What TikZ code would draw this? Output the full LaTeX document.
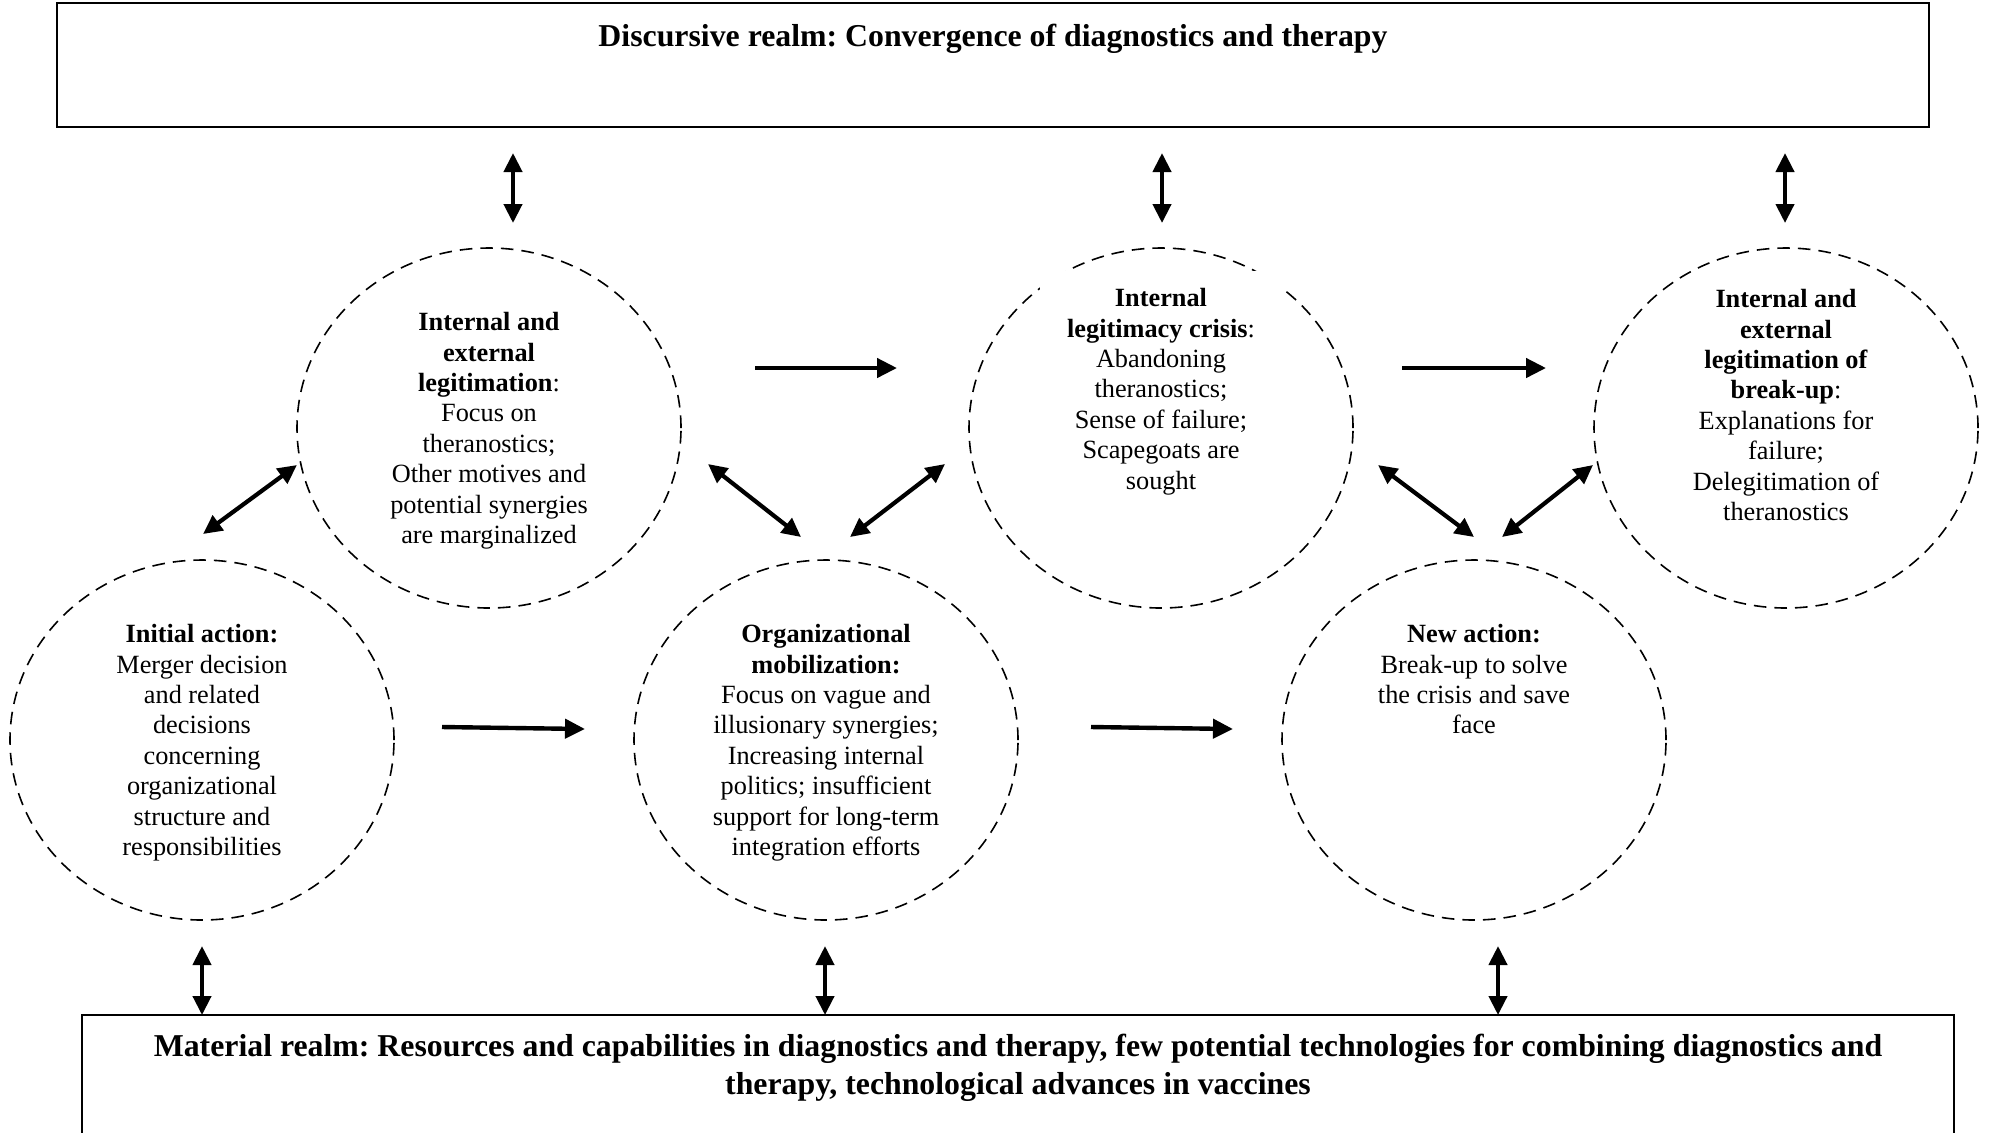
\documentclass[tikz,border=0pt]{standalone}
\usepackage{fontspec}
\setmainfont{Liberation Serif}
\usetikzlibrary{shapes.geometric,arrows.meta}
\begin{document}
\frenchspacing
\begin{tikzpicture}[x=0.5pt,y=-0.5pt,
  circ/.style={draw, ellipse, dash pattern=on 6.3pt off 4pt, line width=0.8pt,
    minimum width=192pt, minimum height=180pt, inner sep=0pt},
  ctext/.style={anchor=north, align=center, inner sep=0pt,
    font=\fontsize{13.15pt}{15.2pt}\selectfont},
  realm/.style={draw, line width=1pt, rectangle, inner sep=0pt},
  rtext/.style={align=center, inner sep=0pt,
    font=\fontsize{15.9pt}{19pt}\selectfont\bfseries},
  arr/.style={line width=2.2pt, -{Triangle[length=10pt,width=9.5pt]}},
  darr/.style={line width=2.1pt, {Triangle[length=9.5pt,width=9pt]}-{Triangle[length=9.5pt,width=9pt]}},
]
\clip (0,0) rectangle (1990,1132);
\fill[white] (0,0) rectangle (1990,1132);

% realm boxes
\node[realm, minimum width=936pt, minimum height=62pt] (disc) at (993,65) {};
\node[rtext, anchor=base] (disctitle) at (993,46) {Discursive realm: Convergence of diagnostics and therapy};
\node[realm, minimum width=936pt, minimum height=75pt] (mat) at (1018,1090) {};
\node[rtext, anchor=north] (mattitle) at (1018,1034) {Material realm: Resources and capabilities in diagnostics and therapy, few potential technologies for combining diagnostics and\\therapy, technological advances in vaccines};

% circles
\node[circ] (c1) at (489,428) {};
\node[circ] (c2) at (1161,428) {};
\node[circ] (c3) at (1786,428) {};
\node[circ] (c4) at (202,740) {};
\node[circ] (c5) at (826,740) {};
\node[circ] (c6) at (1474,740) {};
\fill[white] (1040,271) rectangle (1282,300);

% circle texts
\node[ctext] (t1) at (489,312) {\textbf{Internal and}\\\textbf{external}\\\textbf{legitimation}:\\Focus on\\theranostics;\\Other motives and\\potential synergies\\are marginalized};
\node[ctext] (t2) at (1161,288) {\textbf{Internal}\\\textbf{legitimacy crisis}:\\Abandoning\\theranostics;\\Sense of failure;\\Scapegoats are\\sought};
\node[ctext] (t3) at (1786,289) {\textbf{Internal and}\\\textbf{external}\\\textbf{legitimation of}\\\textbf{break-up}:\\Explanations for\\failure;\\Delegitimation of\\theranostics};
\node[ctext] (t4) at (202,624) {\textbf{Initial action:}\\Merger decision\\and related\\decisions\\concerning\\organizational\\structure and\\responsibilities};
\node[ctext] (t5) at (826,624) {\textbf{Organizational}\\\textbf{mobilization:}\\Focus on vague and\\illusionary synergies;\\Increasing internal\\politics; insufficient\\support for long-term\\integration efforts};
\node[ctext] (t6) at (1474,624) {\textbf{New action:}\\Break-up to solve\\the crisis and save\\face};

% connector end points
\coordinate (v1a) at (513,153);  \coordinate (v1b) at (513,223);
\coordinate (v2a) at (1162,153); \coordinate (v2b) at (1162,223);
\coordinate (v3a) at (1785,153); \coordinate (v3b) at (1785,223);
\coordinate (w1a) at (202,946);  \coordinate (w1b) at (202,1015);
\coordinate (w2a) at (825,946);  \coordinate (w2b) at (825,1015);
\coordinate (w3a) at (1498,946); \coordinate (w3b) at (1498,1015);
\coordinate (h1a) at (755,368);  \coordinate (h1b) at (897,368);
\coordinate (h2a) at (1402,368); \coordinate (h2b) at (1546,368);
\coordinate (h3a) at (442,727);  \coordinate (h3b) at (585,729);
\coordinate (h4a) at (1091,727); \coordinate (h4b) at (1233,729);
\coordinate (d1a) at (203,534);  \coordinate (d1b) at (297,465);
\coordinate (d2a) at (708,464);  \coordinate (d2b) at (801,537);
\coordinate (d3a) at (850,537);  \coordinate (d3b) at (945,464);
\coordinate (d4a) at (1378,465); \coordinate (d4b) at (1474,537);
\coordinate (d5a) at (1502,537); \coordinate (d5b) at (1593,465);

% connectors
\draw[darr] (v1a) -- (v1b);
\draw[darr] (v2a) -- (v2b);
\draw[darr] (v3a) -- (v3b);
\draw[darr] (w1a) -- (w1b);
\draw[darr] (w2a) -- (w2b);
\draw[darr] (w3a) -- (w3b);
\draw[arr] (h1a) -- (h1b);
\draw[arr] (h2a) -- (h2b);
\draw[arr] (h3a) -- (h3b);
\draw[arr] (h4a) -- (h4b);
\draw[darr] (d1a) -- (d1b);
\draw[darr] (d2a) -- (d2b);
\draw[darr] (d3a) -- (d3b);
\draw[darr] (d4a) -- (d4b);
\draw[darr] (d5a) -- (d5b);
\end{tikzpicture}
\end{document}
